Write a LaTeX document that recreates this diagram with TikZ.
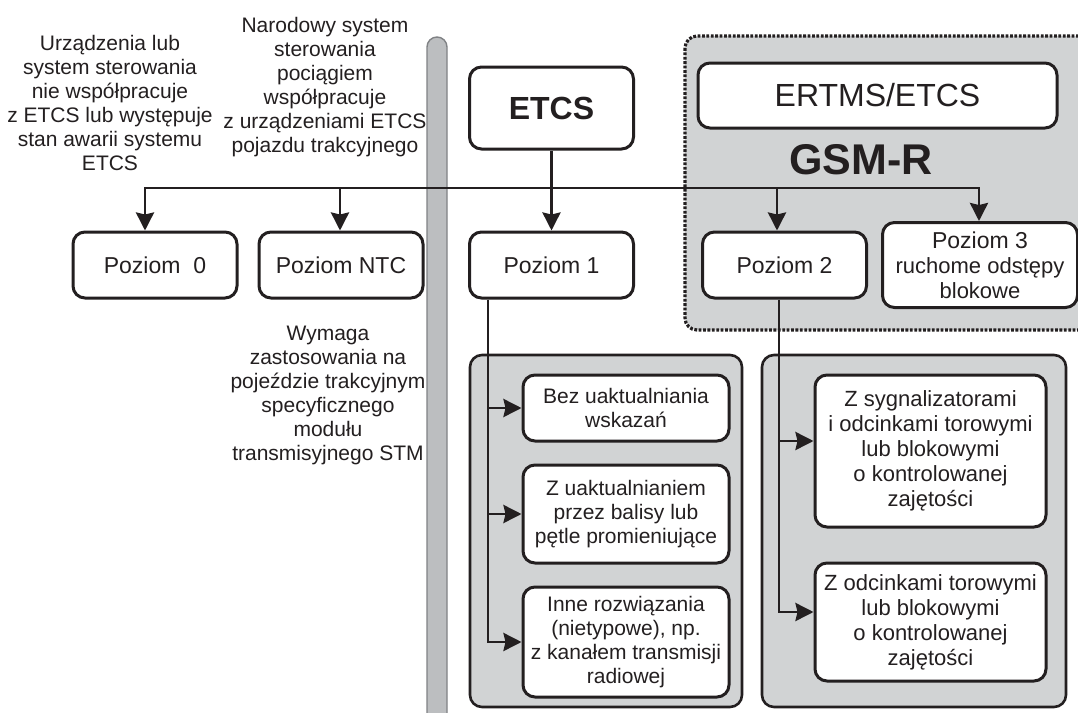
\documentclass[tikz,border=0pt]{standalone}
\usepackage{fontspec}
\setmainfont{Liberation Sans}
\usetikzlibrary{positioning,arrows.meta}
\definecolor{ink}{HTML}{231F20}
\definecolor{panelgray}{HTML}{D1D3D4}
\definecolor{bargray}{HTML}{BCBEC0}
\definecolor{baredge}{HTML}{808285}

\tikzset{
  lvl/.style={draw=ink, line width=1.5pt, rounded corners=6pt, fill=white, align=center,
    text=ink, font=\fontsize{10.5}{12}\selectfont, inner sep=2pt},
  lvlsize/.style={minimum width=82pt, minimum height=33pt, font=\fontsize{11.5}{12.5}\selectfont},
  note/.style={align=center, text=ink, font=\fontsize{10.5}{12}\selectfont},
  panel/.style={draw=ink, line width=1.3pt, rounded corners=6pt, fill=panelgray},
  gsmzone/.style={panel, line width=1.6pt, dash pattern=on 1.4pt off 0.8pt},
  tip/.tip={Stealth[length=9pt, width=9pt, inset=1pt]},
  wire/.style={draw=ink, line width=1.4pt},
  arr/.style={wire, -tip},
}

\begin{document}
\begin{tikzpicture}[x=0.5pt, y=-0.5pt]
  \useasboundingbox (0,0) rectangle (1078,713);
  \fill[white] (0,0) rectangle (1078,713);

  % bar and zones
  \draw[fill=bargray, draw=baredge, line width=0.7pt, rounded corners=5pt]
    (427,760) -- (427,37) -- (447,37) -- (447,760);
  \draw[gsmzone] (685,36) rectangle (1110,330);
  \draw[panel] (470,355) rectangle (742,707);
  \draw[panel] (762,355) rectangle (1066,707);

  \node[note] (t0) at (110,103) {Urządzenia lub\\system sterowania\\nie współpracuje\\z ETCS lub występuje\\stan awarii systemu\\ETCS};
  \node[note] (t1) at (325,87) {Narodowy system\\sterowania\\pociągiem\\współpracuje\\z urządzeniami ETCS\\pojazdu trakcyjnego};

  \node[lvl, lvlsize] (p0) at (155,265) {Poziom\ \ 0};
  \node[lvl, lvlsize, right=9.5pt of p0] (ntc) {Poziom NTC};
  \node[lvl, lvlsize] (p1) at (551.5,265) {Poziom 1};
  \node[lvl, lvlsize, minimum height=41pt, font=\fontsize{16}{18}\selectfont\bfseries,
    above=40pt of p1] (etcs) {ETCS};
  \node[lvl, lvlsize, right=33pt of p1] (p2) {Poziom 2};
  \node[lvl, minimum width=97.5pt, minimum height=42.5pt, right=6.5pt of p2,
    font=\fontsize{11}{12.5}\selectfont] (p3) {{\fontsize{11.5}{12.5}\selectfont Poziom 3}\\ruchome odstępy\\blokowe};
  \node[lvl, minimum width=179.5pt, minimum height=32.5pt,
    font=\fontsize{16}{18}\selectfont] (ertms) at (877.5,95.5) {ERTMS/ETCS};
  \node[text=ink, font=\fontsize{21.5}{24}\selectfont\bfseries] (gsm) at (861,160) {GSM-R};

  \node[note] (t2) at (328,395) {Wymaga\\zastosowania na\\pojeździe trakcyjnym\\specyficznego\\modułu\\transmisyjnego STM};

  \node[lvl, minimum width=103pt, minimum height=33pt] (a) at (626,408) {Bez uaktualniania\\wskazań};
  \node[lvl, minimum width=103pt, minimum height=49pt, below=10.5pt of a] (b) {Z uaktualnianiem\\przez balisy lub\\pętle promieniujące};
  \node[lvl, minimum width=103pt, minimum height=55pt, below=10.5pt of b] (c) {Inne rozwiązania\\(nietypowe), np.\\z kanałem transmisji\\radiowej};

  \node[lvl, minimum width=115.5pt, minimum height=76pt, font=\fontsize{11}{12.5}\selectfont] (d) at (930.5,451) {Z sygnalizatorami\\i odcinkami torowymi\\lub blokowymi\\o kontrolowanej\\zajętości};
  \node[lvl, minimum width=115.5pt, minimum height=59pt, font=\fontsize{11}{12.5}\selectfont, below=16.5pt of d] (e) {Z odcinkami torowymi\\lub blokowymi\\o kontrolowanej\\zajętości};

  \coordinate (j0) at (145,188);
  \coordinate (jn) at (340,188);
  \coordinate (j2) at (777,188);
  \coordinate (j3) at (979,188);
  \coordinate (v1) at (488,300);
  \coordinate (v2) at (779,300);
  \coordinate (dw) at ([yshift=5pt]d.west);
  \coordinate (ew) at ([yshift=5pt]e.west);

  \draw[wire, tip-tip] (j0 |- p0.north) -- (j0) -- (j3) -- (j3 |- p3.north);
  \draw[arr] (jn) -- (jn |- ntc.north);
  \draw[arr] (j2) -- (j2 |- p2.north);
  \draw[arr] (etcs) -- (p1);

  \draw[arr] (v1 |- p1.south) -- (v1 |- c.west) -- (c.west);
  \draw[arr] (v1 |- a.west) -- (a.west);
  \draw[arr] (v1 |- b.west) -- (b.west);

  \draw[arr] (v2 |- p2.south) -- (v2 |- ew) -- (ew);
  \draw[arr] (v2 |- dw) -- (dw);
\end{tikzpicture}
\end{document}
